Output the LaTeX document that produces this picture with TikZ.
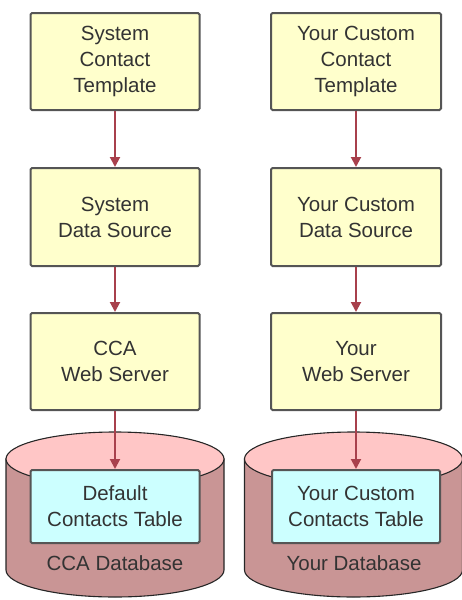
\documentclass[tikz,border=0pt]{standalone}
\usepackage{fontspec}
\setmainfont{Liberation Sans}
\usetikzlibrary{arrows.meta}
\definecolor{boxfill}{HTML}{FFFFCC}
\definecolor{boxline}{HTML}{555555}
\definecolor{arrowc}{HTML}{A8404C}
\definecolor{tablefill}{HTML}{CCFFFF}
\definecolor{dbbody}{HTML}{C99595}
\definecolor{dbtop}{HTML}{FFC6C6}
\definecolor{txt}{HTML}{333333}
\begin{document}
\begin{tikzpicture}[x=1pt,y=-1pt,
  stepbox/.style={draw=boxline, line width=2pt, fill=boxfill, rounded corners=1.5pt,
    minimum width=169pt, minimum height=97pt, inner sep=0pt, align=center,
    text=txt, font=\fontsize{20.5}{26}\selectfont},
  tablebox/.style={stepbox, fill=tablefill, minimum height=73pt},
  flow/.style={draw=arrowc, line width=2pt, -{Triangle[width=10pt,length=10pt]}},
  dbline/.style={draw=black!85, line width=1.1pt},
  dblabel/.style={text=txt, font=\fontsize{20.5}{26}\selectfont, inner sep=0pt}]
\useasboundingbox (0,0) rectangle (462,600);

% cylinders
\foreach \cx in {115,353.5}{
  \path[fill=dbbody, dbline] (\cx-109,459) -- (\cx-109,570)
     arc[start angle=180, end angle=360, x radius=109pt, y radius=27pt]
     -- (\cx+109,459) -- cycle;
  \path[fill=dbtop, dbline] (\cx,459) ellipse [x radius=109pt, y radius=27pt];
}

% left column
\node[stepbox] (l1) at (115,61.5) {System\\Contact\\Template};
\node[stepbox, minimum height=98pt] (l2) at (115,217) {System\\Data Source};
\node[stepbox] (l3) at (115,361.5) {CCA\\Web Server};
\node[tablebox] (lt) at (115,506.5) {Default\\Contacts Table};
\node[dblabel] (ldb) at (115,563) {CCA Database};

% right column
\node[stepbox, minimum width=170pt] (r1) at (356,61.5) {Your Custom\\Contact\\Template};
\node[stepbox, minimum width=170pt, minimum height=98pt] (r2) at (356,217) {Your Custom\\Data Source};
\node[stepbox, minimum width=170pt] (r3) at (356,361.5) {Your\\Web Server};
\node[tablebox, minimum width=168pt] (rt) at (356,506.5) {Your Custom\\Contacts Table};
\node[dblabel] (rdb) at (354,563) {Your Database};

% arrows
\draw[flow] (l1) -- (l2);
\draw[flow] (l2) -- (l3);
\draw[flow] (l3) -- (lt);
\draw[flow] (r1) -- (r2);
\draw[flow] (r2) -- (r3);
\draw[flow] (r3) -- (rt);
\end{tikzpicture}
\end{document}
